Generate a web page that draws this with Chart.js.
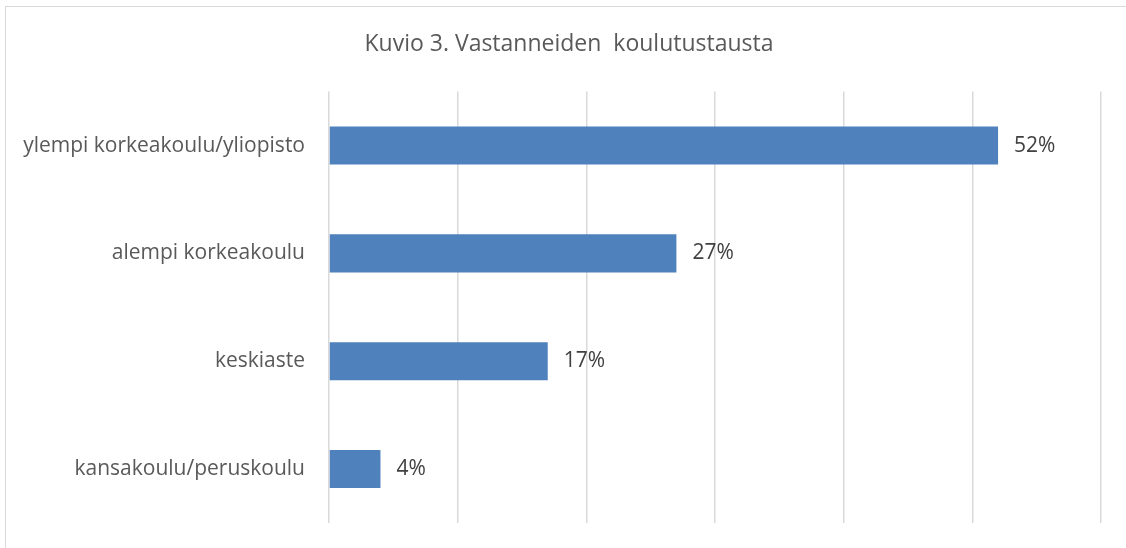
<!DOCTYPE html>
<html>
<head>
<meta charset="utf-8">
<script src="https://cdn.jsdelivr.net/npm/chart.js@4"></script>
<style>
  html, body { margin: 0; padding: 0; background: #fff; overflow: hidden; }
  #wrap { position: relative; width: 1126px; height: 548px; }
  #frame { position: absolute; left: 5px; top: 6px; width: 1140px; height: 560px; border: 1.5px solid #d9d9d9; box-sizing: border-box; }
  canvas { position: absolute; left: 0; top: 0; }
</style>
</head>
<body>
<div id="wrap">
  <div id="frame"></div>
  <canvas id="chart" width="1126" height="548"></canvas>
</div>
<script>
const categories = ['ylempi korkeakoulu/yliopisto', 'alempi korkeakoulu', 'keskiaste', 'kansakoulu/peruskoulu']
const shares = [52, 27, 17, 4]
const titleText = 'Kuvio 3. Vastanneiden  koulutustausta'

const fontFamily = "'Open Sans', Lato, sans-serif"

// value labels at the bar ends
const barLabels = {
    id: 'barLabels',
    afterDatasetsDraw(chart) {
        const ctx = chart.ctx
        const meta = chart.getDatasetMeta(0)
        ctx.save()
        ctx.font = '21px ' + fontFamily
        ctx.fillStyle = '#404040'
        ctx.textBaseline = 'middle'
        ctx.textAlign = 'left'
        meta.data.forEach((bar, i) => {
            ctx.fillText(shares[i] + '%', bar.x + 16, bar.y)
        })
        ctx.restore()
    }
}

// nudge the title box so it centres a bit right of the canvas middle
const titleShift = {
    id: 'titleShift',
    afterLayout(chart) {
        if (chart.titleBlock) chart.titleBlock.left = 37
    }
}

const ctx = document.getElementById('chart').getContext('2d')
new Chart(ctx, {
    type: 'bar',
    data: {
        labels: categories,
        datasets: [{
            data: shares,
            backgroundColor: '#4f81bd',
            categoryPercentage: 1,
            barPercentage: 0.353
        }]
    },
    options: {
        indexAxis: 'y',
        responsive: false,
        animation: false,
        layout: { padding: { left: 0, right: 25, top: 0, bottom: 25 } },
        plugins: {
            legend: { display: false },
            tooltip: { enabled: false },
            title: {
                display: true,
                text: titleText,
                color: '#595959',
                font: { family: fontFamily, size: 23, weight: 'normal' },
                padding: { top: 31, bottom: 33 }
            }
        },
        scales: {
            x: {
                min: 0,
                max: 60,
                ticks: { display: false, stepSize: 10 },
                grid: { color: '#d9d9d9', lineWidth: 1.5, drawTicks: false },
                border: { display: false },
                afterFit(scale) { scale.height = 0 }
            },
            y: {
                grid: { display: false, drawTicks: true, tickLength: 24 },
                border: { display: false },
                ticks: {
                    color: '#595959',
                    font: { family: fontFamily, size: 21 },
                    padding: 0
                },
                afterFit(scale) { scale.width = 329 }
            }
        }
    },
    plugins: [barLabels, titleShift]
})
</script>
</body>
</html>
